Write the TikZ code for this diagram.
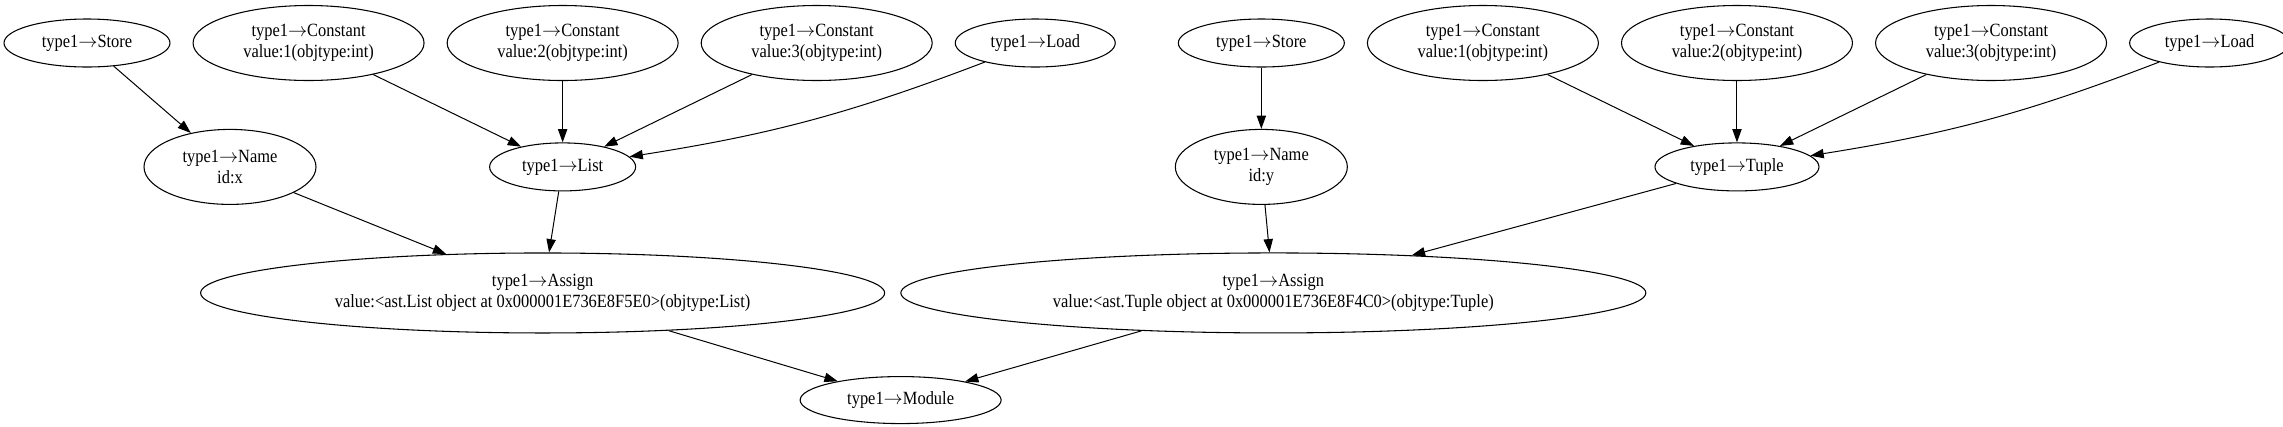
\documentclass[tikz,border=0pt]{standalone}
\usepackage{fontspec}
\setmainfont{Liberation Serif}[FakeStretch=0.88]
\usepackage{tikz}
\usetikzlibrary{arrows.meta,positioning,shapes.geometric}
\newcommand{\astFont}{\fontsize{14}{15.5}\selectfont}
\newcommand{\ty}{type1$\rightarrow$}
\tikzset{
  %% astnode takes the ellipse width as its argument; single-line labels
  %% keep the low height, two-line labels use asttall / astwide.
  astnode/.style={
    ellipse, draw=black, line width=0.8pt, inner sep=0pt,
    align=center, font=\astFont, minimum width=#1, minimum height=36pt},
  asttall/.style={astnode=#1, minimum height=56.25pt},
  astwide/.style={astnode=#1, minimum height=60pt},
  astedge/.style={-{Triangle[length=10pt,width=7pt]}, draw=black,
    line width=0.75pt},
}

\begin{document}
\begin{tikzpicture}[node distance=16.5pt]

\useasboundingbox (0,0) rectangle (1712.25pt,-319.5pt);

%% ------------------------------------------------------------------
%% Top rank: leaves of both statements, left to right.
%% ------------------------------------------------------------------
\node[astnode=124.5pt] (st1) at (65.25pt,-32.25pt) {\ty Store};
\node[asttall=173.25pt, right=of st1] (c11)
  {\ty Constant\\value:1(objtype:int)};
\node[asttall=173.25pt, right=of c11] (c12)
  {\ty Constant\\value:2(objtype:int)};
\node[asttall=173.25pt, right=of c12] (c13)
  {\ty Constant\\value:3(objtype:int)};
\node[astnode=120pt, right=of c13] (ld1) {\ty Load};

\node[astnode=124.5pt, right=46.5pt of ld1] (st2) {\ty Store};
\node[asttall=173.25pt, right=of st2] (c21)
  {\ty Constant\\value:1(objtype:int)};
\node[asttall=173.25pt, right=of c21] (c22)
  {\ty Constant\\value:2(objtype:int)};
\node[asttall=173.25pt, right=of c22] (c23)
  {\ty Constant\\value:3(objtype:int)};
\node[astnode=120pt, right=of c23] (ld2) {\ty Load};

%% --- middle rank --------------------------------------------------
\node[asttall=129pt, below=46pt of st1, xshift=107.25pt] (nm1)
  {\ty Name\\id:x};
\node[astnode=109.5pt, below=46pt of c12] (lst) {\ty List};
\node[asttall=129pt, below=46pt of st2] (nm2) {\ty Name\\id:y};
\node[astnode=123pt, below=46pt of c22] (tpl) {\ty Tuple};

%% --- assignments and module ---------------------------------------
\node[astwide=513pt, below=45.75pt of lst, xshift=-15pt] (as1)
  {\ty Assign\\
   value:<ast.List object at 0x000001E736E8F5E0>(objtype:List)};
\node[astwide=558.75pt, below=35.6pt of nm2, xshift=9pt] (as2)
  {\ty Assign\\
   value:<ast.Tuple object at 0x000001E736E8F4C0>(objtype:Tuple)};
\node[astnode=150.75pt, minimum height=35.25pt, below=31.9pt of as1,
      xshift=268.5pt] (mod) {\ty Module};

%% --- edges --------------------------------------------------------
\draw[astedge] (st1) -- (nm1);
\draw[astedge] (c11) -- (lst);
\draw[astedge] (c12) -- (lst);
\draw[astedge] (c13) -- (lst);
\draw[astedge] (ld1) to[bend left=6] (lst);
\draw[astedge] (nm1) -- (as1);
\draw[astedge] (lst) -- (as1);

\draw[astedge] (st2) -- (nm2);
\draw[astedge] (c21) -- (tpl);
\draw[astedge] (c22) -- (tpl);
\draw[astedge] (c23) -- (tpl);
\draw[astedge] (ld2) to[bend left=6] (tpl);
\draw[astedge] (nm2) -- (as2);
\draw[astedge] (tpl) -- (as2);

\draw[astedge] (as1) -- (mod);
\draw[astedge] (as2) -- (mod);

\end{tikzpicture}
\end{document}
